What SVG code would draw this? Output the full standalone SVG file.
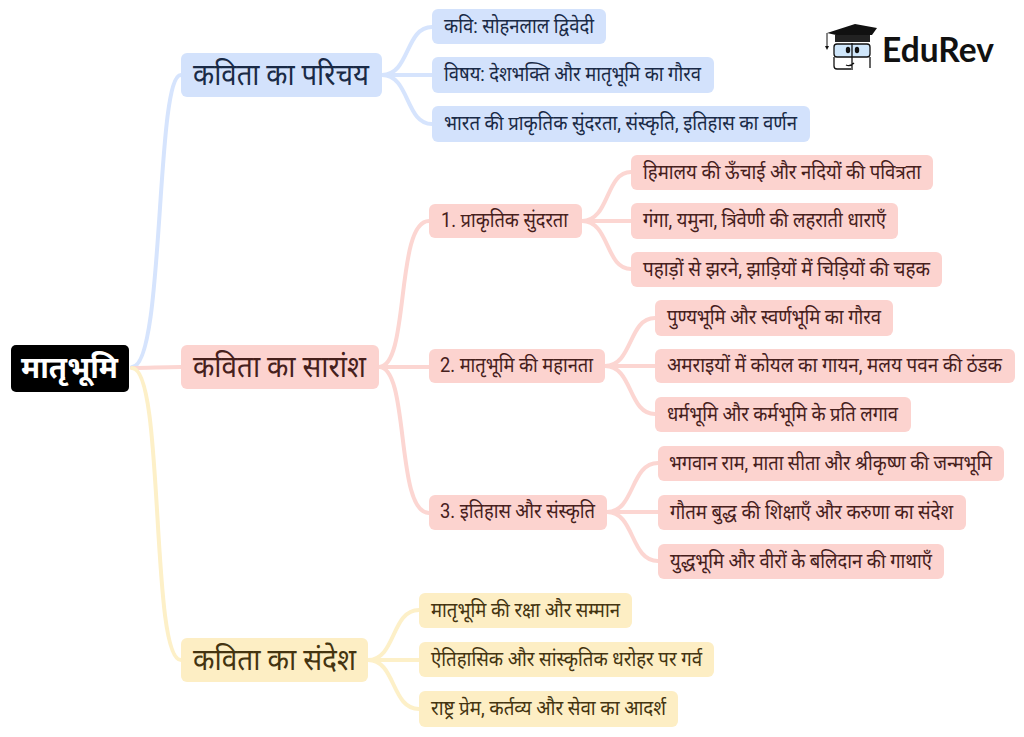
<svg xmlns="http://www.w3.org/2000/svg" width="1024" height="737" viewBox="0 0 1024 737">
<style>
text{font-family:Roboto,"Noto Sans",sans-serif}
.l1{font-size:31px}.l2{font-size:20px}
.b rect{fill:#d3e2fc}.b text{fill:#1a2a46}
.r rect{fill:#fcd3cf}.r text{fill:#46201c}
.y rect{fill:#fdeec4}.y text{fill:#443410}
.c{fill:none;stroke-width:4;stroke-linecap:round}
.cb{stroke:#d6e4fd}.cr{stroke:#fcd6d2}.cy{stroke:#fdf0c8}
</style>
<rect width="1024" height="737" fill="#fff"/>
<g id="connectors">
<path class="c cb" d="M132 367C165 367 155 75 181 75"/>
<path class="c cr" d="M132 368C150 368 160 367 181 367"/>
<path class="c cy" d="M132 368C165 368 150 660 181 660"/>
<path class="c cb" d="M382 75C410 75 405 27 432 27"/>
<path class="c cb" d="M382 75H432"/>
<path class="c cb" d="M382 75C410 75 405 124 432 124"/>
<path class="c cr" d="M379 367C410 367 395 221 429 221"/>
<path class="c cr" d="M379 367H429"/>
<path class="c cr" d="M379 367C410 367 395 513 429 513"/>
<path class="c cr" d="M582 221C610 221 605 172 631 172"/>
<path class="c cr" d="M582 221H631"/>
<path class="c cr" d="M582 221C610 221 605 269 631 269"/>
<path class="c cr" d="M605 366C633 366 628 318 655 318"/>
<path class="c cr" d="M605 366H655"/>
<path class="c cr" d="M605 366C633 366 628 414 655 414"/>
<path class="c cr" d="M607 512C635 512 630 463 658 463"/>
<path class="c cr" d="M607 512H658"/>
<path class="c cr" d="M607 512C635 512 630 561 658 561"/>
<path class="c cy" d="M368 660C396 660 391 610 419 610"/>
<path class="c cy" d="M368 660H419"/>
<path class="c cy" d="M368 660C396 660 391 709 419 709"/>
</g>
<g id="root"><rect x="11" y="345" width="118" height="47" rx="5" fill="#000"/><text x="21" y="378" font-size="30" fill="#fff" font-weight="700" textLength="97" lengthAdjust="spacingAndGlyphs">मातृभूमि</text></g>
<g id="n1" class="b"><rect x="181" y="53" width="201" height="44" rx="6"/><text class="l1" x="193" y="85" textLength="176" lengthAdjust="spacingAndGlyphs">कविता का परिचय</text></g>
<g id="n2" class="r"><rect x="181" y="345" width="198" height="44" rx="6"/><text class="l1" x="193" y="377" textLength="173" lengthAdjust="spacingAndGlyphs">कविता का सारांश</text></g>
<g id="n3" class="y"><rect x="181" y="638" width="187" height="44" rx="6"/><text class="l1" x="193" y="670" textLength="163" lengthAdjust="spacingAndGlyphs">कविता का संदेश</text></g>
<g id="n1a" class="b"><rect x="432" y="9" width="174" height="35" rx="6"/><text class="l2" x="444" y="33" textLength="150" lengthAdjust="spacingAndGlyphs">कवि: सोहनलाल द्विवेदी</text></g>
<g id="n1b" class="b"><rect x="432" y="57" width="282" height="36" rx="6"/><text class="l2" x="444" y="81" textLength="257" lengthAdjust="spacingAndGlyphs">विषय: देशभक्ति और मातृभूमि का गौरव</text></g>
<g id="n1c" class="b"><rect x="432" y="106" width="378" height="36" rx="6"/><text class="l2" x="444" y="130" textLength="353" lengthAdjust="spacingAndGlyphs">भारत की प्राकृतिक सुंदरता, संस्कृति, इतिहास का वर्णन</text></g>
<g id="n2a" class="r"><rect x="429" y="204" width="153" height="34" rx="6"/><text class="l2" x="441" y="227" textLength="127" lengthAdjust="spacingAndGlyphs">1. प्राकृतिक सुंदरता</text></g>
<g id="n2b" class="r"><rect x="429" y="349" width="176" height="34" rx="6"/><text class="l2" x="440" y="372" textLength="153" lengthAdjust="spacingAndGlyphs">2. मातृभूमि की महानता</text></g>
<g id="n2c" class="r"><rect x="429" y="495" width="178" height="35" rx="6"/><text class="l2" x="440" y="518" textLength="155" lengthAdjust="spacingAndGlyphs">3. इतिहास और संस्कृति</text></g>
<g id="n2a1" class="r"><rect x="631" y="155" width="302" height="35" rx="6"/><text class="l2" x="643" y="179" textLength="278" lengthAdjust="spacingAndGlyphs">हिमालय की ऊँचाई और नदियों की पवित्रता</text></g>
<g id="n2a2" class="r"><rect x="631" y="203" width="267" height="36" rx="6"/><text class="l2" x="643" y="227" textLength="243" lengthAdjust="spacingAndGlyphs">गंगा, यमुना, त्रिवेणी की लहराती धाराएँ</text></g>
<g id="n2a3" class="r"><rect x="631" y="252" width="311" height="35" rx="6"/><text class="l2" x="643" y="276" textLength="287" lengthAdjust="spacingAndGlyphs">पहाड़ों से झरने, झाड़ियों में चिड़ियों की चहक</text></g>
<g id="n2b1" class="r"><rect x="655" y="300" width="238" height="36" rx="6"/><text class="l2" x="667" y="324" textLength="214" lengthAdjust="spacingAndGlyphs">पुण्यभूमि और स्वर्णभूमि का गौरव</text></g>
<g id="n2b2" class="r"><rect x="655" y="349" width="360" height="34" rx="6"/><text class="l2" x="667" y="372" textLength="335" lengthAdjust="spacingAndGlyphs">अमराइयों में कोयल का गायन, मलय पवन की ठंडक</text></g>
<g id="n2b3" class="r"><rect x="655" y="397" width="256" height="35" rx="6"/><text class="l2" x="667" y="421" textLength="231" lengthAdjust="spacingAndGlyphs">धर्मभूमि और कर्मभूमि के प्रति लगाव</text></g>
<g id="n2c1" class="r"><rect x="658" y="446" width="346" height="35" rx="6"/><text class="l2" x="669" y="470" textLength="323" lengthAdjust="spacingAndGlyphs">भगवान राम, माता सीता और श्रीकृष्ण की जन्मभूमि</text></g>
<g id="n2c2" class="r"><rect x="658" y="495" width="308" height="35" rx="6"/><text class="l2" x="670" y="519" textLength="283" lengthAdjust="spacingAndGlyphs">गौतम बुद्ध की शिक्षाएँ और करुणा का संदेश</text></g>
<g id="n2c3" class="r"><rect x="658" y="544" width="286" height="35" rx="6"/><text class="l2" x="670" y="568" textLength="262" lengthAdjust="spacingAndGlyphs">युद्धभूमि और वीरों के बलिदान की गाथाएँ</text></g>
<g id="n3a" class="y"><rect x="419" y="593" width="213" height="35" rx="6"/><text class="l2" x="431" y="617" textLength="189" lengthAdjust="spacingAndGlyphs">मातृभूमि की रक्षा और सम्मान</text></g>
<g id="n3b" class="y"><rect x="419" y="642" width="295" height="35" rx="6"/><text class="l2" x="431" y="666" textLength="271" lengthAdjust="spacingAndGlyphs">ऐतिहासिक और सांस्कृतिक धरोहर पर गर्व</text></g>
<g id="n3c" class="y"><rect x="419" y="691" width="259" height="36" rx="6"/><text class="l2" x="431" y="715" textLength="235" lengthAdjust="spacingAndGlyphs">राष्ट्र प्रेम, कर्तव्य और सेवा का आदर्श</text></g>
<g id="logo">
<path d="M827 33L855 24L877 28L872 35H836Z" fill="#111"/>
<path d="M835 35H870V42H835Z" fill="#222"/>
<path d="M827 33V46" stroke="#111" fill="none" stroke-width="1"/><path d="M825 46H829L827 50Z" fill="#111"/>
<rect x="834" y="44" width="36" height="13" rx="3" fill="#cfe6fa" stroke="#111" stroke-width="1.3"/>
<path d="M834 57V66Q834 69 837 69H851M870 57V68M852 43V70M846 65Q850 67 854 63" fill="none" stroke="#111" stroke-width="1.3"/>
<ellipse cx="848" cy="50" rx="2.2" ry="3.2" fill="#111"/><ellipse cx="857" cy="50" rx="2.2" ry="3.2" fill="#111"/>
<text x="882" y="62" font-size="33.5" font-weight="700" fill="#111" style="font-family:Lato,sans-serif">EduRev</text>
</g>
</svg>
